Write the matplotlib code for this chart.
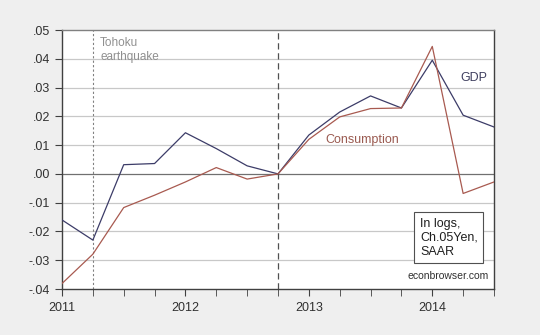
import matplotlib
matplotlib.use("Agg")
import matplotlib.pyplot as plt
from matplotlib.ticker import MultipleLocator, FuncFormatter

plt.rcParams['font.family'] = ['Liberation Sans', 'DejaVu Sans']

# quarterly, 2011Q1 .. 2014Q3, log deviation from 2012Q4
quarters = [2011 + 0.25 * i for i in range(15)]
gdp = [-0.016, -0.023, 0.0032, 0.0036, 0.0143, 0.0088, 0.0028, 0.0,
       0.0135, 0.0215, 0.0271, 0.0229, 0.0395, 0.0204, 0.0163]
consumption = [-0.0381, -0.0279, -0.0117, -0.0074, -0.0028, 0.0022, -0.0018, 0.0,
               0.0120, 0.0198, 0.0227, 0.0229, 0.0443, -0.0068, -0.0028]
quake = 2011.25
base = 2012.75

fig = plt.figure(figsize=(5.4, 3.35), dpi=100, facecolor='#efefef')
ax = fig.add_axes([0.1148, 0.1373, 0.8, 0.7731])
ax.set_facecolor('white')

for v in [-0.03, -0.02, -0.01, 0.01, 0.02, 0.03, 0.04]:
    ax.axhline(v, color='#c8c8c8', lw=0.9, zorder=1)
ax.axhline(0, color='#707070', lw=0.9, zorder=1)

ax.axvline(quake, color='#808080', lw=0.8, ls=(0, (2, 2)), zorder=2)
ax.axvline(base, color='#505050', lw=0.9, ls=(0, (5, 3)), zorder=2)

ax.plot(quarters, gdp, color='#3c3c68', lw=0.9, zorder=3)
ax.plot(quarters, consumption, color='#a85a50', lw=0.9, zorder=3)

ax.set_xlim(2011, 2014.5)
ax.set_ylim(-0.04, 0.05)
ax.xaxis.set_major_locator(MultipleLocator(1))
ax.xaxis.set_minor_locator(MultipleLocator(0.25))
ax.xaxis.set_major_formatter(FuncFormatter(lambda x, p: '%d' % x))
ax.yaxis.set_major_locator(MultipleLocator(0.01))


def yfmt(v, p):
    s = '%.2f' % v
    if s.startswith('-0'):
        return '-' + s[2:]
    if s.startswith('0'):
        return s[1:]
    return s


ax.yaxis.set_major_formatter(FuncFormatter(yfmt))
ax.tick_params(axis='both', which='both', direction='out', length=5,
               color='#404040', labelsize=9, labelcolor='#303030')
ax.tick_params(axis='x', which='major', pad=4)

for side in ['left', 'bottom', 'right']:
    ax.spines[side].set_color('#404040')
    ax.spines[side].set_linewidth(1.0)
ax.spines['top'].set_color('#808080')
ax.spines['top'].set_linewidth(1.0)

ax.text(2011.31, 0.0475, 'Tohoku\nearthquake', color='#909090', fontsize=8.5,
        va='top', ha='left', linespacing=1.15)
ax.text(2014.34, 0.0334, 'GDP', color='#404060', fontsize=9, ha='center', va='center')
ax.text(2013.43, 0.0118, 'Consumption', color='#9a5a50', fontsize=9, ha='center', va='center')
ax.text(2013.90, -0.0153, 'In logs,\nCh.05Yen,\nSAAR', color='#202020', fontsize=9,
        va='top', ha='left', linespacing=1.2,
        bbox=dict(boxstyle='square,pad=0.45', fc='white', ec='#505050', lw=0.8))
ax.text(2014.455, -0.0354, 'econbrowser.com', color='#303030', fontsize=7.5,
        ha='right', va='center')

fig.savefig('out.png', dpi=100, facecolor=fig.get_facecolor())
